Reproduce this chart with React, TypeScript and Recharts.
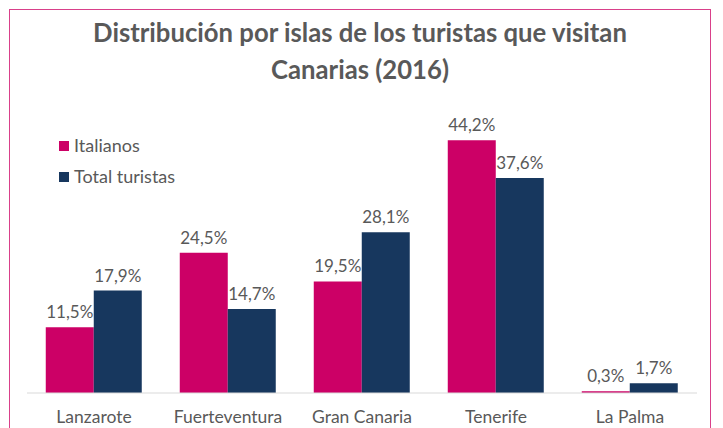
import { Bar, BarChart, LabelList, XAxis, YAxis } from "recharts";

const islands = ["Lanzarote", "Fuerteventura", "Gran Canaria", "Tenerife", "La Palma"];
const italianos = [11.5, 24.5, 19.5, 44.2, 0.3];
const totalTuristas = [17.9, 14.7, 28.1, 37.6, 1.7];

const data = islands.map((isla, i) => ({
  isla,
  italianos: italianos[i],
  total: totalTuristas[i],
}));

const PINK = "#CC0066";
const NAVY = "#17375E";
const TEXT = "#595959";
const FONT = "Lato, 'Open Sans', sans-serif";

const fmt = (v: any) => `${Number(v).toFixed(1).replace(".", ",")}%`;

export default function App() {
  return (
    <div
      style={{
        position: "absolute",
        left: 0,
        top: 0,
        width: 723,
        height: 428,
        overflow: "hidden",
        background: "#fff",
        fontFamily: FONT,
      }}
    >
      <div
        style={{
          position: "absolute",
          left: 9,
          top: 9,
          width: 700,
          height: 440,
          border: "1px solid #D9408A",
        }}
      />
      <div
        style={{
          position: "absolute",
          left: 9,
          width: 702,
          top: 14,
          textAlign: "center",
          color: TEXT,
          fontWeight: 700,
          fontSize: 25.7,
          lineHeight: "37px",
        }}
      >
        Distribución por islas de los turistas que visitan
        <br />
        Canarias (2016)
      </div>
      <BarChart
        width={723}
        height={428}
        data={data}
        margin={{ top: 107, right: 26, bottom: 5, left: 27 }}
        barCategoryGap="14%"
        barGap={0}
        style={{ position: "absolute", left: 0, top: 0 }}
      >
        <XAxis
          dataKey="isla"
          height={30}
          tickLine={false}
          tickMargin={12}
          axisLine={{ stroke: "#D9D9D9" }}
          tick={{ fill: TEXT, fontSize: 17.5, fontFamily: FONT }}
          interval={0}
        />
        <YAxis hide domain={[0, 50]} />
        <Bar dataKey="italianos" fill={PINK} isAnimationActive={false}>
          <LabelList
            dataKey="italianos"
            position="top"
            offset={9}
            formatter={fmt}
            style={{ fill: TEXT, fontSize: 17, fontFamily: FONT }}
          />
        </Bar>
        <Bar dataKey="total" fill={NAVY} isAnimationActive={false}>
          <LabelList
            dataKey="total"
            position="top"
            offset={9}
            formatter={fmt}
            style={{ fill: TEXT, fontSize: 17, fontFamily: FONT }}
          />
        </Bar>
      </BarChart>
      <div
        style={{
          position: "absolute",
          left: 59,
          top: 130,
          color: TEXT,
          fontSize: 18,
          lineHeight: "31px",
        }}
      >
        {[
          { label: "Italianos", color: PINK },
          { label: "Total turistas", color: NAVY },
        ].map((it) => (
          <div key={it.label} style={{ display: "flex", alignItems: "center" }}>
            <span
              style={{
                display: "inline-block",
                width: 10,
                height: 10,
                background: it.color,
                marginRight: 5,
              }}
            />
            {it.label}
          </div>
        ))}
      </div>
    </div>
  );
}
